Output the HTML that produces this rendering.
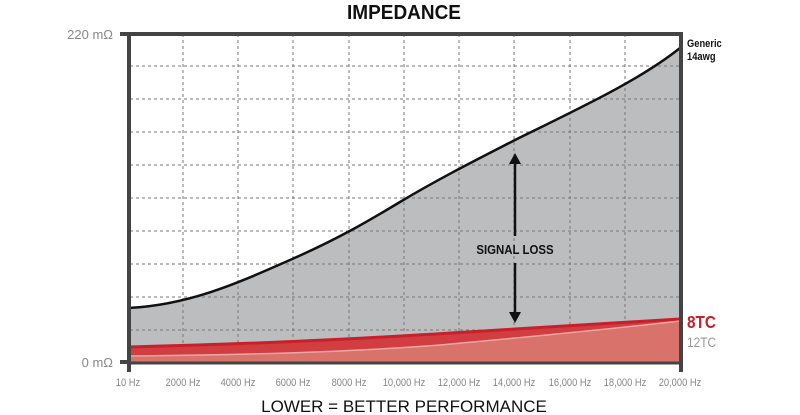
<!DOCTYPE html>
<html><head><style>body{margin:0;background:#fff}svg{display:block}</style></head><body>
<svg width="800" height="415" xmlns="http://www.w3.org/2000/svg" font-family="Liberation Sans, sans-serif">
<rect width="800" height="415" fill="#fff"/>
<text x="404" y="19" text-anchor="middle" font-size="20" font-weight="bold" fill="#111" transform="translate(404,0) scale(0.95,1) translate(-404,0)">IMPEDANCE</text>
<path d="M128,308 C190,305 240,282 290,260 C340,238 370,220 400,202 C440,178 480,158 515,140 C580,108 640,80 680,48 L680,363 L128,363 Z" fill="#bcbdbf"/>
<g stroke="#777" stroke-width="1" stroke-dasharray="3,3">
<line x1="183" y1="34" x2="183" y2="362"/><line x1="238" y1="34" x2="238" y2="362"/><line x1="293" y1="34" x2="293" y2="362"/><line x1="349" y1="34" x2="349" y2="362"/><line x1="404" y1="34" x2="404" y2="362"/><line x1="459" y1="34" x2="459" y2="362"/><line x1="514" y1="34" x2="514" y2="362"/><line x1="570" y1="34" x2="570" y2="362"/><line x1="625" y1="34" x2="625" y2="362"/>
<line x1="130" y1="66" x2="680" y2="66"/><line x1="130" y1="99" x2="680" y2="99"/><line x1="130" y1="132" x2="680" y2="132"/><line x1="130" y1="165" x2="680" y2="165"/><line x1="130" y1="198" x2="680" y2="198"/><line x1="130" y1="231" x2="680" y2="231"/><line x1="130" y1="264" x2="680" y2="264"/><line x1="130" y1="297" x2="680" y2="297"/><line x1="130" y1="330" x2="680" y2="330"/>
</g>
<path d="M128,308 C190,305 240,282 290,260 C340,238 370,220 400,202 C440,178 480,158 515,140 C580,108 640,80 680,48" fill="none" stroke="#111" stroke-width="2.5"/>
<path d="M128,347 C300,343 420,335 515,329 C600,324 650,321 680,319 L680,363 L128,363 Z" fill="#d23d42"/>
<path d="M128,356 C250,355 350,352 440,345 C540,336 620,328 680,321 L680,363 L128,363 Z" fill="#d9726a"/>
<path d="M128,347 C300,343 420,335 515,329 C600,324 650,321 680,319" fill="none" stroke="#c8202a" stroke-width="3"/>
<path d="M128,356 C250,355 350,352 440,345 C540,336 620,328 680,321" fill="none" stroke="#e8a9a3" stroke-width="1.5"/>
<g stroke="#111" stroke-width="2.5"><line x1="515" y1="162" x2="515" y2="236"/><line x1="515" y1="263" x2="515" y2="314"/></g>
<path d="M509,164 L515,153 L521,164 Z M509,312 L515,323 L521,312 Z" fill="#111"/>
<text x="515" y="254" text-anchor="middle" font-size="13" font-weight="bold" fill="#111" transform="translate(515,0) scale(0.88,1) translate(-515,0)">SIGNAL LOSS</text>
<g stroke="#444" stroke-width="4" fill="none">
<path d="M120,34 L681,34 L681,372"/><path d="M129,34 L129,372"/><line x1="120" y1="362" x2="129" y2="362"/>
<line x1="129" y1="363" x2="681" y2="363" stroke-width="3"/>
</g>
<text x="113" y="39" text-anchor="end" font-size="13" fill="#888">220 mΩ</text>
<text x="113" y="367" text-anchor="end" font-size="13" fill="#888">0 mΩ</text>
<g font-size="11" fill="#888" text-anchor="middle" transform="translate(0,386) scale(0.85,1)">
<text x="150.6">10 Hz</text><text x="215.3">2000 Hz</text><text x="280">4000 Hz</text><text x="344.7">6000 Hz</text><text x="410.6">8000 Hz</text><text x="475.3">10,000 Hz</text><text x="540">12,000 Hz</text><text x="604.7">14,000 Hz</text><text x="670.6">16,000 Hz</text><text x="735.3">18,000 Hz</text><text x="800">20,000 Hz</text>
</g>
<text x="404" y="412" text-anchor="middle" font-size="17" fill="#111">LOWER = BETTER PERFORMANCE</text>
<g transform="translate(687,0) scale(0.85,1)">
<text x="0" y="47" font-size="11" font-weight="bold" fill="#111">Generic</text>
<text x="0" y="60" font-size="11" font-weight="bold" fill="#111">14awg</text>
<text x="0" y="328" font-size="18" font-weight="bold" fill="#c8202a">8TC</text>
<text x="0" y="347" font-size="14" fill="#999">12TC</text>
</g>
</svg>
</body></html>
